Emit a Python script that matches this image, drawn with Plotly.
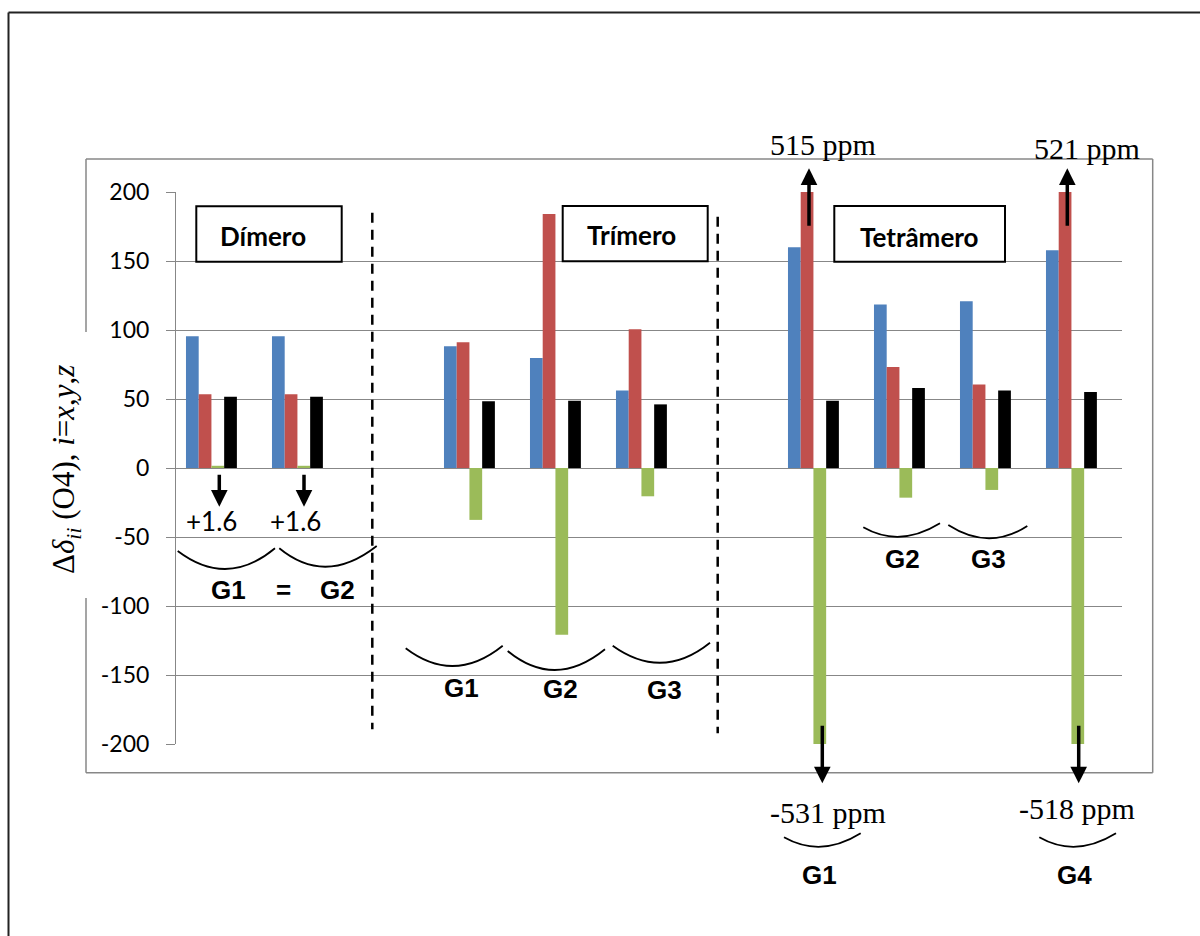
import plotly.graph_objects as go

# Slots along the x axis: 0-1 dimer, 3-5 trimer, 7-10 tetramer (2 and 6 left empty)
slot = [0, 1, 3, 4, 5, 7, 8, 9, 10]
d_xx = [95.5, 95.5, 88.2, 79.8, 56.2, 160.0, 118.4, 120.8, 157.7]
d_yy = [53.5, 53.5, 91.1, 184.0, 100.5, 515.0, 73.1, 60.5, 521.0]
d_zz = [1.6, 1.6, -37.6, -120.8, -20.5, -531.0, -21.5, -15.9, -518.0]
d_iso = [51.6, 51.6, 48.3, 48.8, 46.1, 48.7, 57.9, 56.2, 55.0]

y_ticks = [-200, -150, -100, -50, 0, 50, 100, 150, 200]
y_tick_text = ["-200", "-150", "-100", "-50", "0", "50", "100", "150", "200"]

series = [
    ("xx", d_xx, "#4F81BD", -0.384),
    ("yy", d_yy, "#C0504D", -0.236),
    ("zz", d_zz, "#9BBB59", -0.088),
    ("iso", d_iso, "#000000", 0.060),
]
BAR_W = 0.148

W, H = 1200, 936
L, R, T, B = 176, 78, 192, 192
PW, PH = W - L - R, H - T - B


def px(x):
    return (x - L) / PW


def py(y):
    return (H - B - y) / PH


fig = go.Figure()
for name, vals, color, off in series:
    fig.add_trace(go.Bar(
        x=slot, y=vals, name=name, width=BAR_W, offset=off,
        marker=dict(color=color, line=dict(width=0)),
        showlegend=False,
    ))

GRID = "#878787"
shapes = []
annotations = []

# outer border (left and top edges)
shapes.append(dict(type="line", xref="paper", yref="paper",
                   x0=px(8.5), y0=py(12.5), x1=px(1210), y1=py(12.5),
                   line=dict(color="#222222", width=2)))
shapes.append(dict(type="line", xref="paper", yref="paper",
                   x0=px(8.5), y0=py(12.5), x1=px(8.5), y1=py(950),
                   line=dict(color="#222222", width=2)))

# chart frame, left edge interrupted by the axis title
frame = [((86, 159), (1152.7, 159)), ((1152.7, 159), (1152.7, 772.7)),
         ((86, 772.7), (1152.7, 772.7)), ((86, 159), (86, 332)),
         ((86, 598), (86, 772.7))]
for (xa, ya), (xb, yb) in frame:
    shapes.append(dict(type="line", xref="paper", yref="paper",
                       x0=px(xa), y0=py(ya), x1=px(xb), y1=py(yb),
                       line=dict(color=GRID, width=1.5)))

# dashed separators between aggregates
for xs, ya, yb in [(372.3, 212.7, 729.3), (717.7, 216.7, 733.3)]:
    shapes.append(dict(type="line", xref="paper", yref="paper",
                       x0=px(xs), y0=py(ya), x1=px(xs), y1=py(yb),
                       line=dict(color="black", width=2.5, dash="10px,7px")))

# boxed aggregate titles
boxes = [("Dímero", (196.3, 206.3, 341.7, 261.7), (262.5, 236)),
         ("Trímero", (562.7, 206, 707.7, 261.3), (631.8, 235)),
         ("Tetrâmero", (834.3, 206, 1005, 261.7), (919.2, 236.7))]
for text, (xa, ya, xb, yb), (tx, ty) in boxes:
    shapes.append(dict(type="rect", xref="paper", yref="paper",
                       x0=px(xa), y0=py(ya), x1=px(xb), y1=py(yb),
                       fillcolor="white", line=dict(color="black", width=2)))
    annotations.append(dict(text=text, xref="paper", yref="paper",
                            x=px(tx), y=py(ty), xanchor="center", yanchor="middle",
                            showarrow=False,
                            font=dict(family="Lato", size=26, color="black", weight="bold")))


# brace-like arcs under each group
def arc(p0, m, p1):
    cx = 2 * m[0] - (p0[0] + p1[0]) / 2
    cy = 2 * m[1] - (p0[1] + p1[1]) / 2
    return (f"M {px(p0[0])},{py(p0[1])} Q {px(cx)},{py(cy)} "
            f"{px(p1[0])},{py(p1[1])}")


arcs = [
    ((177.7, 551), (226.7, 569), (275, 548.3)),
    ((279.3, 548.3), (326.7, 566.7), (376.7, 546)),
    ((405.7, 648.3), (454, 666), (502.7, 645.7)),
    ((507.7, 651), (555.7, 670), (605, 649.3)),
    ((612.7, 645.7), (661.7, 662.7), (710, 642.7)),
    ((863.3, 527.3), (900.7, 536.7), (940, 523.3)),
    ((948.3, 525), (988.3, 538.3), (1027.3, 526)),
    ((784, 837.3), (821.7, 846.7), (860.7, 833.3)),
    ((1039.3, 837.3), (1076.7, 846.7), (1116, 833.3)),
]
for a in arcs:
    shapes.append(dict(type="path", xref="paper", yref="paper", path=arc(*a),
                       line=dict(color="black", width=1.8)))

# group labels
group_labels = [
    ("G1", 228, 590), ("=", 283.3, 590), ("G2", 337.5, 590),
    ("G1", 461.7, 688.3), ("G2", 560.3, 689.3), ("G3", 664.3, 690),
    ("G2", 902, 559.3), ("G3", 988.3, 559.3),
    ("G1", 819.8, 875), ("G4", 1074.3, 875),
]
for text, tx, ty in group_labels:
    annotations.append(dict(text=text, xref="paper", yref="paper",
                            x=px(tx), y=py(ty), xanchor="center", yanchor="middle",
                            showarrow=False,
                            font=dict(family="Liberation Sans", size=26,
                                      color="black", weight="bold")))

# small positive zz value for the dimer
for tx in (211, 295.8):
    annotations.append(dict(text=f"+{d_zz[0]:.1f}", xref="paper", yref="paper",
                            x=px(tx), y=py(520.5), xanchor="center", yanchor="middle",
                            showarrow=False,
                            font=dict(family="Lato", size=26, color="black")))

# off-scale values of the tetramer
ppm_labels = [(f"{d_yy[5]:.0f} ppm", 822.5, 144), (f"{d_yy[8]:.0f} ppm", 1087, 148),
              (f"{d_zz[5]:.0f} ppm", 828, 812), (f"{d_zz[8]:.0f} ppm", 1077, 808)]
for text, tx, ty in ppm_labels:
    annotations.append(dict(text=text, xref="paper", yref="paper",
                            x=px(tx), y=py(ty), xanchor="center", yanchor="middle",
                            showarrow=False,
                            font=dict(family="Liberation Serif", size=30, color="black")))

# arrows: (tip x, tip y, tail offset in pixels; positive = tail below tip)
arrows = [(219.3, 506.7, -33.4), (304, 506.7, -33.4),
          (809, 168.3, 59), (1067.3, 168.3, 59),
          (822.3, 783.3, -59), (1078.7, 783.3, -59)]
for tx, ty, dy in arrows:
    annotations.append(dict(text="", xref="paper", yref="paper",
                            x=px(tx), y=py(ty), ax=0, ay=dy,
                            axref="pixel", ayref="pixel",
                            showarrow=True, arrowhead=2, arrowsize=0.95,
                            arrowwidth=3.5, arrowcolor="black", standoff=0))

# y axis title
annotations.append(dict(
    text="Δ<i>δ<sub>ii</sub></i> (O4), <i>i</i>=<i>x</i>,<i>y</i>,<i>z</i>",
    xref="paper", yref="paper", x=px(66), y=py(470), textangle=-90,
    xanchor="center", yanchor="middle", showarrow=False,
    font=dict(family="Liberation Serif", size=31, color="black")))

fig.update_layout(
    width=W, height=H,
    margin=dict(l=L, r=R, t=T, b=B, pad=0),
    paper_bgcolor="white", plot_bgcolor="white",
    barmode="overlay",
    xaxis=dict(range=[-0.5, 10.5], showgrid=False, zeroline=False,
               showticklabels=False, ticks="", showline=False, fixedrange=True),
    yaxis=dict(range=[-200, 200], tickmode="array",
               tickvals=y_ticks, ticktext=y_tick_text,
               showgrid=True, gridcolor=GRID, gridwidth=1,
               zeroline=True, zerolinecolor=GRID, zerolinewidth=1,
               showline=True, linecolor=GRID, linewidth=1,
               ticks="outside", ticklen=9, tickcolor=GRID, tickwidth=1,
               ticklabelstandoff=12,
               tickfont=dict(family="Lato", size=23, color="black"),
               fixedrange=True),
    shapes=shapes,
    annotations=annotations,
)

fig.write_html("out.html")
